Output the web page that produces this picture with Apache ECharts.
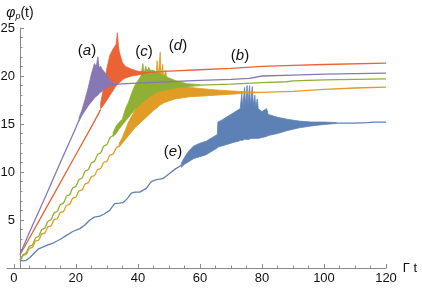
<!DOCTYPE html>
<html><head><meta charset="utf-8">
<script src="https://cdn.jsdelivr.net/npm/echarts@6/dist/echarts.min.js"></script>
<style>html,body{margin:0;padding:0;background:#fff}#c{width:422px;height:291px}</style>
</head><body><div id="c"></div>
<script>
// ---- data ----
const xTickLabels = [0, 20, 40, 60, 80, 100, 120];
const yTickLabels = [5, 10, 15, 20, 25];
const curveNames = ['(e)', '(d)', '(c)', '(b)', '(a)'];

// (e) blue
const eRise = [[2,0.8],[3,0.75],[4,0.8],[5.2,1.1],[7,1.7],[8,2.0],[9.5,2.2],[11,2.4],[12.7,2.6],[15,3.0],[17,3.4],[19,3.8],[21.3,4.1],[23,4.5],[24.5,5.0],[26,5.3],[27.7,5.4],[29,5.6],[30.9,6.0],[32.5,6.7],[34,6.75],[35.2,6.8],[36.5,7.2],[37.9,7.8],[39,7.9],[40.6,7.9],[42.7,8.3],[44.3,9.0],[46,9.2],[48,9.3],[50,9.8],[52,10.3],[54,10.7]];
const eBand = [[54,10.5,10.9],[55,10.8,11.5],[56,11.0,12.0],[57,11.2,12.4],[58,11.4,12.7],[60,11.6,13.0],[62,11.8,13.2],[64,12.2,13.6],[65.6,12.5,13.9],[65.8,12.6,15.2],[67,12.7,15.4],[69,12.9,15.8],[71,13.1,16.2],[72.5,13.2,16.5],[73,13.3,16.6],[73.5,13.3,18.2],[73.8,13.3,16.7],[74.4,13.4,18.8],[74.7,13.4,16.9],[75.2,13.4,19.0],[75.5,13.4,17.0],[76,13.4,19.0],[76.3,13.5,17.0],[76.9,13.5,18.9],[77.2,13.5,16.9],[77.7,13.5,18.0],[78,13.5,16.8],[78.5,13.5,17.6],[78.8,13.5,16.6],[80,13.6,16.3],[81.5,13.7,16.6],[82,13.8,16.0],[85,14.0,15.7],[88,14.3,15.5],[92,14.6,15.3],[96,14.8,15.2],[100,14.95,15.2],[104,15.05,15.15]];
const eTail = [[104,15.1],[110,15.1],[114,15.15],[116,15.2],[120,15.2]];

// (d) orange
const dRise = [[2,0.8],[3,1.30],[4,1.42],[5,2.05],[6,2.16],[7,2.80],[8,2.91],[9,3.54],[10,3.65],[11,4.29],[12,4.40],[13,5.03],[14,5.15],[15,5.78],[16,5.89],[17,6.53],[18,6.64],[19,7.27],[20,7.38],[21,8.02],[22,8.13],[23,8.76],[24,8.88],[25,9.51],[26,9.62],[27,10.25],[28,10.37],[29,11.00],[30,11.11],[31,11.75],[32,11.86],[33,12.49],[34,12.70]];
const dBand = [[34,12.6,13.0],[35,13.0,13.6],[36,13.4,14.4],[37,13.8,15.2],[38,14.2,15.8],[39,14.6,16.4],[40,14.9,17.0],[42,15.5,18.0],[44,16.1,18.9],[45,16.4,19.2],[45.8,16.6,19.6],[46.2,16.7,21.6],[46.5,16.8,19.7],[47.2,17.0,22.5],[47.5,17.0,19.8],[48,17.1,21.2],[48.3,17.2,19.8],[49,17.3,20.6],[49.3,17.3,19.6],[50,17.4,19.5],[52,17.6,19.2],[54,17.7,19.0],[57,17.85,18.8],[60,17.9,18.7],[65,18.0,18.55],[70,18.1,18.45],[75,18.2,18.35],[80,18.28,18.32]];
const dTail = [[80,18.3],[90,18.4],[95,18.5],[100,18.6],[110,18.75],[120,18.85]];

// (c) green
const cRise = [[2,0.8],[3,1.38],[4,1.57],[5,2.25],[6,2.42],[7,3.12],[8,3.29],[9,3.99],[10,4.16],[11,4.86],[12,5.03],[13,5.73],[14,5.90],[15,6.60],[16,6.77],[17,7.47],[18,7.64],[19,8.34],[20,8.51],[21,9.21],[22,9.38],[23,10.08],[24,10.25],[25,10.95],[26,11.12],[27,11.82],[28,11.99],[29,12.69],[30,12.86],[31,13.56],[32,13.80]];
const cBand = [[32,13.7,14.1],[33,14.0,14.8],[34,14.5,15.2],[35,14.9,15.5],[36,15.3,16.6],[37,15.7,17.3],[38,16.1,18.2],[39,16.5,19.0],[40,16.8,19.5],[41,17.1,20.0],[41.6,17.3,21.3],[42,17.4,20.2],[42.5,17.5,21.0],[43,17.6,20.5],[43.5,17.8,20.9],[44,17.9,20.6],[45,18.1,20.6],[46,18.3,20.4],[48,18.5,20.1],[50,18.6,19.8],[53,18.8,19.4],[56,18.9,19.2],[60,19.0,19.1]];
const cTail = [[60,19.05],[70,19.15],[80,19.3],[88,19.4],[90,19.5],[100,19.6],[120,19.7]];

// (b) red
const bRise = [[2,1.4],[5,3.1],[10,6.0],[15,8.9],[20,11.8],[25,14.7],[28,16.5]];
const bBand = [[28,16.6,17.2],[29,17.0,18.8],[30,17.5,20.8],[31,18.0,22.2],[32,18.5,22.8],[33,19.0,23.3],[33.4,19.1,24.5],[33.7,19.2,23.2],[34,19.3,22.5],[35,19.6,21.4],[36,19.8,21.0],[38,20.0,20.7],[40,20.1,20.5],[43,20.3,20.4]];
const bTail = [[43,20.35],[50,20.5],[60,20.65],[70,20.8],[80,21.0],[90,21.1],[100,21.2],[120,21.35]];

// (a) purple
const aRise = [[2,1.4],[5,3.7],[10,7.3],[15,11.0],[20,14.6],[21,15.4]];
const aBand = [[21,15.3,15.6],[22,15.9,16.5],[23,16.4,17.6],[24,16.9,18.8],[25,17.3,20.2],[26,17.7,21.3],[26.6,17.9,21.0],[27.1,18.0,22.0],[27.5,18.2,20.9],[28,18.3,21.0],[28.5,18.4,20.7],[29,18.6,20.5],[30,18.8,20.1],[31,18.95,19.5],[32,19.0,19.3],[33,19.1,19.2]];
const aTail = [[33,19.15],[40,19.25],[50,19.4],[60,19.55],[70,19.65],[76,19.75],[80,20.0],[90,20.1],[100,20.2],[120,20.3]];

// ---- styling ----
const colors = ['#5E81B5', '#E09C24', '#8FB032', '#EB6235', '#8778B3'];
const curves = [
  [eRise, eBand, eTail], [dRise, dBand, dTail], [cRise, cBand, cTail],
  [bRise, bBand, bTail], [aRise, aBand, aTail]
];
const FONT = 'Liberation Sans, Arial, sans-serif';
const X_MIN = -2.2, X_MAX = 120;
const xMinorTicks = [];
for (let i = 0; i + 1 < xTickLabels.length; i++) {
  const step = (xTickLabels[i + 1] - xTickLabels[i]) / 4;
  for (let k = 1; k < 4; k++) xMinorTicks.push(xTickLabels[i] + k * step);
}

function bandSeries(band, color, z) {
  return {
    type: 'custom', z: z, silent: true, clip: true,
    xAxisIndex: 0, yAxisIndex: 0,
    data: [[band[0][0], band[0][1]]],
    renderItem: function (params, api) {
      const up = band.map(d => api.coord([d[0], d[2]]));
      const lo = band.slice().reverse().map(d => api.coord([d[0], d[1]]));
      return { type: 'polygon', shape: { points: up.concat(lo) },
        style: { fill: color, stroke: color, lineWidth: 0.8 } };
    }
  };
}
function lineSeries(data, color, z, smooth) {
  return { type: 'line', z: z, data: data, showSymbol: false, symbol: 'none',
    xAxisIndex: 0, yAxisIndex: 0, silent: true, smooth: smooth ? 0.35 : false,
    lineStyle: { color: color, width: 1.3 } };
}
const series = [];
curves.forEach((c, i) => {
  const z = 2 + i;
  series.push(lineSeries(c[0], colors[i], z, i === 1 || i === 2));
  series.push(bandSeries(c[1], colors[i], z));
  series.push(lineSeries(c[2], colors[i], z, false));
});

const axisGray = '#8a8a8a';
const chart = echarts.init(document.getElementById('c'), null, { renderer: 'canvas' });
chart.setOption({
  animation: false,
  backgroundColor: '#fff',
  grid: { left: 7, right: 36, top: 28, bottom: 23, containLabel: false, outerBoundsMode: 'none' },
  xAxis: [{
    type: 'value', min: X_MIN, max: X_MAX, position: 'bottom',
    name: 'Γ t', nameLocation: 'end', nameGap: 16,
    nameTextStyle: { fontFamily: FONT, fontSize: 13, color: '#111', verticalAlign: 'middle' },
    axisLine: { onZero: false, lineStyle: { color: axisGray, width: 1 } },
    axisTick: { inside: true, length: 4, customValues: xTickLabels, lineStyle: { color: axisGray } },
    minorTick: { show: false },
    splitLine: { show: false },
    axisLabel: { fontFamily: FONT, fontSize: 13, color: '#111', margin: 4, customValues: xTickLabels }
  }, {
    type: 'value', min: X_MIN, max: X_MAX, position: 'bottom', offset: 0,
    axisLine: { show: false, onZero: false },
    axisTick: { inside: true, length: 2.5, customValues: xMinorTicks, lineStyle: { color: axisGray } },
    axisLabel: { show: false },
    splitLine: { show: false }
  }],
  yAxis: [{
    type: 'value', min: 0, max: 25, interval: 5, position: 'left', offset: -13.0,
    name: '{i|φ}{s|p}{n|(t)}', nameLocation: 'end', nameGap: 7,
    nameTextStyle: { fontFamily: FONT, color: '#111', align: 'center',
      rich: { i: { fontFamily: FONT, fontStyle: 'italic', fontSize: 14, color: '#111' },
              s: { fontFamily: FONT, fontStyle: 'italic', fontSize: 9, color: '#111', padding: [6, 0, 0, 0] },
              n: { fontFamily: FONT, fontSize: 14, color: '#111' } } },
    axisLine: { onZero: false, lineStyle: { color: axisGray, width: 1 } },
    axisTick: { inside: true, length: 4, lineStyle: { color: axisGray } },
    minorTick: { show: true, splitNumber: 5, length: 2.5, lineStyle: { color: axisGray } },
    splitLine: { show: false },
    axisLabel: { fontFamily: FONT, fontSize: 13, color: '#111', margin: 5,
      formatter: v => (yTickLabels.indexOf(v) >= 0 ? String(v) : '') }
  }],
  graphic: [
    [87, 51, curveNames[4].slice(1, 2)],
    [240, 56, curveNames[3].slice(1, 2)],
    [144, 51.5, curveNames[2].slice(1, 2)],
    [178, 46, curveNames[1].slice(1, 2)],
    [173, 151.5, curveNames[0].slice(1, 2)]
  ].map(p => ({
    type: 'text', x: p[0], y: p[1], silent: true, z: 100,
    style: { text: '({i|' + p[2] + '})', font: '15px ' + FONT, fill: '#111',
      textAlign: 'center', textVerticalAlign: 'middle', align: 'center', verticalAlign: 'middle',
      rich: { i: { fontStyle: 'italic', fontSize: 15, fontFamily: FONT, fill: '#111' } } }
  })),
  series: series
});
</script>
</body></html>
